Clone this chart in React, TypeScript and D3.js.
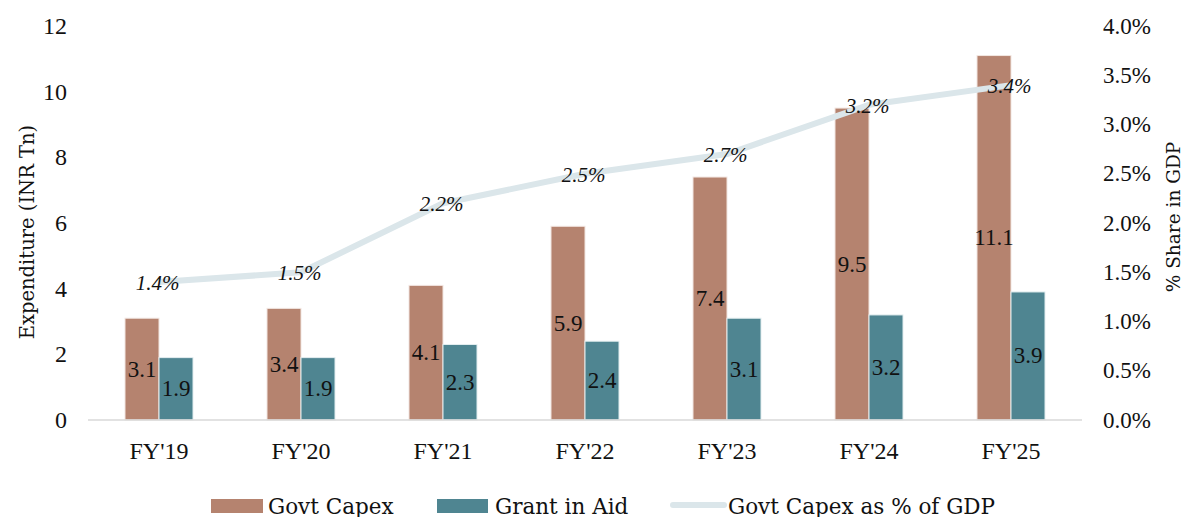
import React from "react";
import * as d3 from "d3";

const categories = ["FY'19", "FY'20", "FY'21", "FY'22", "FY'23", "FY'24", "FY'25"];
const govtCapex = [3.1, 3.4, 4.1, 5.9, 7.4, 9.5, 11.1];
const grantInAid = [1.9, 1.9, 2.3, 2.4, 3.1, 3.2, 3.9];
const capexPctGdp = [1.4, 1.5, 2.2, 2.5, 2.7, 3.2, 3.4];
const leftTicks = [0, 2, 4, 6, 8, 10, 12];
const rightTicks = [0, 0.5, 1, 1.5, 2, 2.5, 3, 3.5, 4];

const W = 1185;
const H = 517;
const NUMFONT = "'Liberation Serif', 'DejaVu Serif', serif";
const WORDFONT = "'DejaVu Serif', 'Liberation Serif', serif";
const C_CAPEX = "#b5836f";
const C_GRANT = "#4f8591";
const C_LINE = "#dbe6ea";

export default function App() {
  const x0 = 88, x1 = 1082, yTop = 26, yBot = 420;
  const x = d3.scaleBand<string>().domain(categories).range([x0, x1]);
  const yL = d3.scaleLinear().domain([0, 12]).range([yBot, yTop]);
  const yR = d3.scaleLinear().domain([0, 4]).range([yBot, yTop]);
  const barW = 34;
  const cx = (c: string) => (x(c) as number) + x.bandwidth() / 2;
  const line = d3
    .line<number>()
    .x((_, i) => cx(categories[i]))
    .y((d) => yR(d));

  return (
    <svg width={W} height={H} style={{ position: "absolute", left: 0, top: 0, background: "#fff" }} fontFamily={NUMFONT}>
      {leftTicks.map((t) => (
        <text key={"l" + t} x={67} y={yL(t)} textAnchor="end" dominantBaseline="central" fontSize={24} fill="#111">
          {t}
        </text>
      ))}
      {rightTicks.map((t) => (
        <text key={"r" + t} x={1103} y={yR(t)} textAnchor="start" dominantBaseline="central" fontSize={23} fill="#111">
          {d3.format(".1f")(t) + "%"}
        </text>
      ))}
      <text transform={`translate(27,232) rotate(-90)`} textAnchor="middle" dominantBaseline="central" fontSize={19.5} fontFamily={WORDFONT} fill="#111">
        Expenditure (INR Tn)
      </text>
      <text transform={`translate(1173,217) rotate(-90)`} textAnchor="middle" dominantBaseline="central" fontSize={18.5} fontFamily={WORDFONT} fill="#111">
        % Share in GDP
      </text>

      {categories.map((c, i) => (
        <g key={c}>
          <rect x={cx(c) - barW} y={yL(govtCapex[i])} width={barW} height={yBot - yL(govtCapex[i])} fill={C_CAPEX} stroke="#f2e6e1" strokeWidth={1} />
          <rect x={cx(c)} y={yL(grantInAid[i])} width={barW} height={yBot - yL(grantInAid[i])} fill={C_GRANT} stroke="#e3eef0" strokeWidth={1} />
        </g>
      ))}
      <line x1={x0} x2={x1} y1={yBot} y2={yBot} stroke="#d9d9d9" strokeWidth={1.5} />

      {categories.map((c, i) => (
        <g key={"bl" + c}>
          <text x={cx(c) - barW / 2} y={(yL(govtCapex[i]) + yBot) / 2} textAnchor="middle" dominantBaseline="central" fontSize={23} fill="#111">
            {govtCapex[i].toFixed(1)}
          </text>
          <text x={cx(c) + barW / 2} y={(yL(grantInAid[i]) + yBot) / 2} textAnchor="middle" dominantBaseline="central" fontSize={23} fill="#111">
            {grantInAid[i].toFixed(1)}
          </text>
        </g>
      ))}

      <path d={line(capexPctGdp) || ""} fill="none" stroke={C_LINE} strokeWidth={6} strokeLinejoin="round" />
      {capexPctGdp.map((v, i) => (
        <text key={"p" + i} x={cx(categories[i]) - 1.5} y={yR(v) + 1} textAnchor="middle" dominantBaseline="central" fontSize={21} fontStyle="italic" fill="#111">
          {v.toFixed(1) + "%"}
        </text>
      ))}

      {categories.map((c) => (
        <text key={"x" + c} x={cx(c)} y={451} textAnchor="middle" dominantBaseline="central" fontSize={24} fill="#111">
          {c}
        </text>
      ))}

      <rect x={211} y={499} width={52} height={14} fill={C_CAPEX} />
      <text x={268} y={506} dominantBaseline="central" fontSize={21.5} fontFamily={WORDFONT} fill="#111">Govt Capex</text>
      <rect x={437} y={499} width={51} height={14} fill={C_GRANT} />
      <text x={495} y={506} dominantBaseline="central" fontSize={21.5} fontFamily={WORDFONT} fill="#111">Grant in Aid</text>
      <line x1={673} x2={724} y1={505} y2={505} stroke={C_LINE} strokeWidth={6} strokeLinecap="round" />
      <text x={728} y={506} dominantBaseline="central" fontSize={21.5} fontFamily={WORDFONT} fill="#111">Govt Capex as % of GDP</text>
    </svg>
  );
}
